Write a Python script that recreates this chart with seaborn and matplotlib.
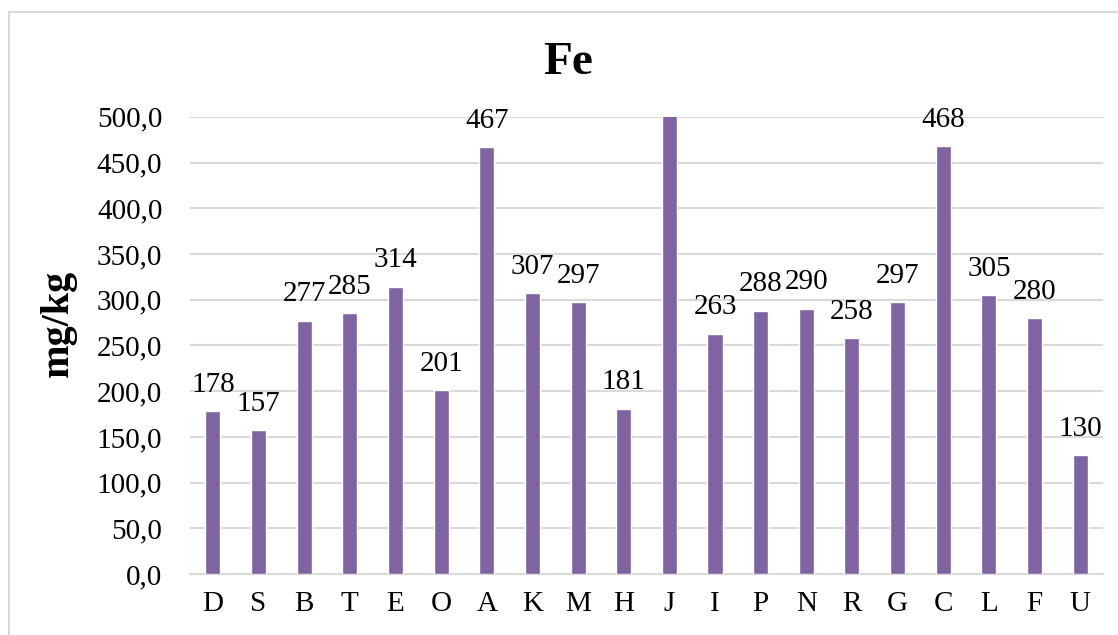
import matplotlib
matplotlib.use("Agg")
import matplotlib.pyplot as plt
import seaborn as sns
import pandas as pd
from matplotlib.patches import Rectangle
from matplotlib.ticker import FuncFormatter

# data (J is cut off at the top of the axis, value estimated)
samples = ['D', 'S', 'B', 'T', 'E', 'O', 'A', 'K', 'M', 'H',
           'J', 'I', 'P', 'N', 'R', 'G', 'C', 'L', 'F', 'U']
fe = [178, 157, 277, 285, 314, 201, 467, 307, 297, 181,
      510, 263, 288, 290, 258, 297, 468, 305, 280, 130]
yticks = [0, 50, 100, 150, 200, 250, 300, 350, 400, 450, 500]

df = pd.DataFrame({'sample': samples, 'fe': fe})

sns.set_style('white')
plt.rcParams['font.family'] = ['Liberation Serif', 'DejaVu Serif']
plt.rcParams['text.color'] = 'black'
plt.rcParams['xtick.color'] = 'black'
plt.rcParams['ytick.color'] = 'black'

fig = plt.figure(figsize=(11.18, 6.35), dpi=100)
ax = fig.add_axes([0.170, 0.096, 0.8166, 0.720])

sns.barplot(data=df, x='sample', y='fe', color='#8064A2', saturation=1,
            width=0.33, ax=ax, zorder=3)

ax.set_ylim(0, 500)
ax.set_xlim(-0.5, len(samples) - 0.5)
ax.set_yticks(yticks)
ax.yaxis.set_major_formatter(FuncFormatter(lambda v, p: f'{v:.1f}'.replace('.', ',')))
ax.grid(axis='y', color='#D9D9D9', linewidth=1.5, zorder=0)
ax.set_axisbelow(True)
for s in ['top', 'right', 'left']:
    ax.spines[s].set_visible(False)
ax.spines['bottom'].set_color('#D9D9D9')
ax.spines['bottom'].set_linewidth(1.5)
ax.tick_params(axis='y', length=0, pad=20, labelsize=21, labelcolor='black')
ax.tick_params(axis='x', length=0, pad=12, labelsize=21, labelcolor='black')
ax.set_xlabel('')
ax.set_ylabel('')

# value labels (the clipped bar has none)
for i, v in enumerate(fe):
    if v <= 500:
        ax.annotate(str(v), (i, v), xytext=(0, 14), textcoords='offset points',
                    ha='center', va='baseline', fontsize=21, color='black')

fig.text(0.508, 0.8835, 'Fe', ha='center', va='baseline',
         fontsize=34, fontweight='bold', color='black')
fig.text(0.052, 0.49, 'mg/kg', ha='center', va='center', rotation=90,
         fontsize=29, fontweight='bold', color='black')

# chart border (cut off at right and bottom in the original)
fig.patches.append(Rectangle((0.008, -0.1), 1.1, 0.1 + 0.981, transform=fig.transFigure,
                             fill=False, edgecolor='#D9D9D9', linewidth=1.5))

fig.savefig('out.png', dpi=100)
